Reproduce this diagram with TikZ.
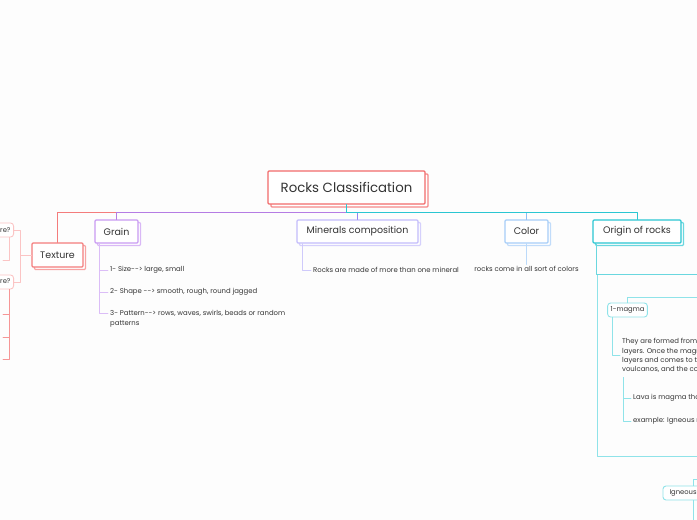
\documentclass[tikz,border=0pt]{standalone}
\usepackage{fontspec}
\setsansfont{Poppins}
\usetikzlibrary{calc,shadows}
\definecolor{Paper}{HTML}{FDFDFD}
\definecolor{Ink}{HTML}{333333}
\definecolor{RootRed}{HTML}{F26B6B}
\definecolor{TexRed}{HTML}{F47C7C}
\definecolor{TexPink}{HTML}{FBC4C4}
\definecolor{GrainPurple}{HTML}{C99AF2}
\definecolor{GrainBus}{HTML}{B57CE4}
\definecolor{GrainLine}{HTML}{DBBDF7}
\definecolor{MinLav}{HTML}{C3BCFB}
\definecolor{MinStub}{HTML}{9484F2}
\definecolor{MinLine}{HTML}{CFCAFB}
\definecolor{ColBlue}{HTML}{A6CDF8}
\definecolor{ColStub}{HTML}{8DBEF4}
\definecolor{ColLine}{HTML}{BBDAFA}
\definecolor{OriTeal}{HTML}{2AC6D2}
\definecolor{OriLine}{HTML}{8FE3E9}
\definecolor{OriBox}{HTML}{B3EDF1}
\tikzset{
  root/.style={draw=RootRed,fill=white,line width=1.3pt,rounded corners=1pt,
    minimum width=157pt,minimum height=33pt,text=Ink,
    font=\sffamily\fontsize{13.3}{15}\selectfont,
    copy shadow={shadow xshift=3pt,shadow yshift=-3pt,draw=RootRed!80,fill=white}},
  topic/.style={draw=#1,fill=white,line width=1.2pt,rounded corners=1pt,
    minimum height=23pt,text=Ink,font=\sffamily\fontsize{9.5}{11}\selectfont,
    copy shadow={shadow xshift=2.5pt,shadow yshift=-2.5pt,draw=#1!70,fill=white}},
  leaf/.style={draw=#1,fill=white,line width=0.9pt,rounded corners=3pt,
    minimum height=14pt,inner xsep=3pt,text=Ink,font=\sffamily\fontsize{6.8}{8}\selectfont},
  item/.style={anchor=west,inner sep=2pt,text=Ink,align=left,
    font=\sffamily\fontsize{6.9}{10}\selectfont},
  bus/.style={draw=#1,line width=1pt},
  twig/.style={draw=#1,line width=0.9pt},
}
\begin{document}
\begin{tikzpicture}[x=1pt,y=-1pt,line cap=round,line join=round]
\clip (0,0) rectangle (697,520);
\fill[Paper] (0,0) rectangle (697,520);

% Root and main topics
\node[root] (root) at (346.5,187.5) {Rocks Classification};
\node[topic=TexRed,minimum width=51pt,minimum height=24pt] (texture) at (57.5,255) {Texture};
\node[topic=GrainPurple,minimum width=43pt] (grain) at (116.5,231.5) {Grain};
\node[topic=MinLav,minimum width=121pt] (minerals) at (357.5,231.5) {Minerals composition};
\node[topic=ColBlue,minimum width=43pt] (color) at (526.5,231.5) {Color};
\node[topic=OriTeal,minimum width=88pt] (origin) at (637,231.5) {Origin of rocks};

% Root connectors (drawn left to right, origin last)
\draw[bus=TexRed] (root.south) -- ++(0,8) -| (texture.north);
\draw[bus=GrainBus] (root.south) -- ++(0,8) -| (grain.north);
\draw[bus=MinStub] (root.south) -- ++(0,8) -| (minerals.north);
\draw[bus=ColStub] (root.south) -- ++(0,8) -| (color.north);
\draw[bus=OriTeal] (root.south) -- ++(0,8) -| (origin.north);

% Texture questions (left side)
\node[leaf=TexPink,anchor=east] (q1) at (14,230) {What is texture?};
\node[leaf=TexPink,anchor=east] (q2) at (14,282) {Types of texture?};
\draw[twig=TexPink] (texture.west) -- ++(-11,0) |- (q1.east);
\draw[twig=TexPink] (texture.west) -- ++(-11,0) |- (q2.east);
\coordinate (q1a) at (3,260);
\coordinate (q2a) at (3,314);
\coordinate (q2b) at (3,337);
\coordinate (q2c) at (3,359);
\draw[twig=TexPink] (q1.south east) ++(-5,0) |- (q1a);
\foreach \c in {q2a,q2b,q2c}{
  \draw[twig=TexRed!80] (q2.south east) ++(-5,0) |- (\c);
}

% Grain
\node[item] (g1) at (108,270) {1- Size-{}-> large, small};
\node[item] (g2) at (108,292) {2- Shape -{}-> smooth, rough, round jagged};
\node[item,anchor=north west] (g3) at (108,308.5) {3- Pattern-{}-> rows, waves, swirls, beads or random\\patterns};
\draw[twig=GrainLine] (grain.south west) ++(5,0) |- (g1.west);
\draw[twig=GrainLine] (grain.south west) ++(5,0) |- (g2.west);
\draw[twig=GrainLine] (grain.south west) ++(5,0) |- ($(g3.north west)+(0,4.8)$);

% Minerals composition
\node[item] (m1) at (311,270) {Rocks are made of more than one mineral};
\draw[twig=MinLine] (minerals.south west) ++(6,0) |- (m1.west);

% Color
\node[item,anchor=north] (c1) at (526.5,264.5) {rocks come in all sort of colors};
\draw[twig=ColLine] (color.south) -- (c1.north);

% Origin of rocks
\coordinate (oright) at (705,274);
\draw[twig=OriLine,line width=0.8pt] (597,274) rectangle (760,456);
\draw[twig=OriTeal!70] (origin.south west) ++(4,0) |- (oright);
\node[leaf=OriLine] (magma) at (627.5,310) {1-magma};
\coordinate (mright) at (705,297);
\draw[twig=OriLine] (mright) -| (magma.north);
\node[item,font=\sffamily\fontsize{6.9}{9.2}\selectfont] (m2) at (620,355.5)
  {They are formed from magma deep in the earth's\\layers. Once the magma rises through the\\layers and comes to the surface through the\\voulcanos, and the cools down};
\draw[twig=OriLine] (magma.south west) ++(5,0) |- (m2.west);
\node[item] (lava) at (631,398) {Lava is magma that reaches the surface};
\node[item] (example) at (631,421) {example: Igneous rocks};
\draw[twig=OriLine] (m2.south west) ++(3,3) |- (lava.west);
\draw[twig=OriLine] (m2.south west) ++(3,3) |- (example.west);

% Igneous
\node[leaf=OriLine,minimum width=60pt] (igneous) at (693,493) {Igneous rocks};
\coordinate (iright) at (705,479);
\draw[twig=OriLine] (iright) -| (igneous.north);
\draw[twig=OriLine] (igneous.south) -- ++(0,25);
\end{tikzpicture}
\end{document}
